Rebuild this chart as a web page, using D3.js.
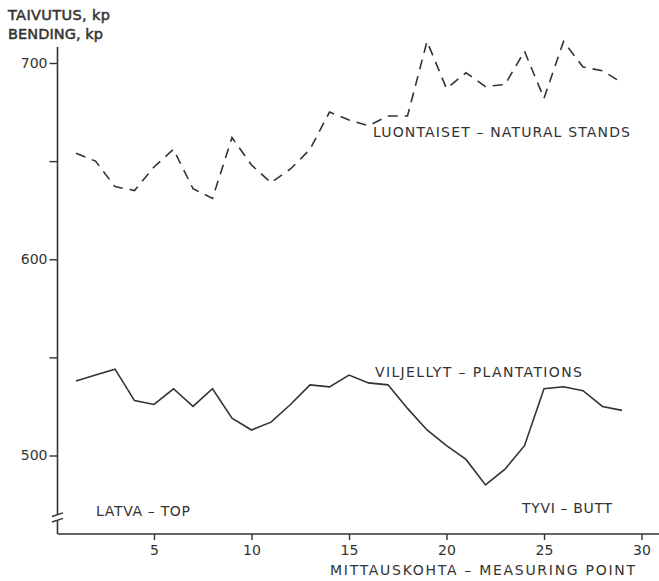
<!DOCTYPE html>
<html>
<head>
<meta charset="utf-8">
<script src="https://cdn.jsdelivr.net/npm/d3@7/dist/d3.min.js"></script>
<style>
  html, body { margin: 0; padding: 0; background: #fff; }
  svg text { font-family: "DejaVu Sans", sans-serif; fill: #333; }
</style>
</head>
<body>
<svg id="chart" width="659" height="581"></svg>
<script>
// Measuring points
const points = [1,2,3,4,5,6,7,8,9,10,11,12,13,14,15,16,17,18,19,20,21,22,23,24,25,26,27,28,29];
// Natural stands (dashed)
const natural = [654,650,637,635,647,656,636,631,662,648,639,646,656,675,671,668,673,673,711,687,695,688,689,706,682,711,698,696,690];
// Plantations (solid)
const plantations = [538,541,544,528,526,534,525,534,519,513,517,526,536,535,541,537,536,524,513,505,498,485,493,505,534,535,533,525,523];
const xTicks = [5,10,15,20,25,30];
const yTicks = [500,550,600,650,700];
const yLabelled = [500,600,700];

const svg = d3.select("#chart");
const ink = "#333";

const x = d3.scaleLinear().domain([0, 30]).range([56.5, 641.5]);
const y = d3.scaleLinear().domain([500, 700]).range([455.5, 63]);

const axisX0 = 57.5, axisY0 = 534;

// y axis line with break
svg.append("line").attr("x1", axisX0).attr("x2", axisX0).attr("y1", 47).attr("y2", 514.5)
  .attr("stroke", ink).attr("stroke-width", 1.6);
svg.append("line").attr("x1", axisX0).attr("x2", axisX0).attr("y1", 520).attr("y2", axisY0)
  .attr("stroke", ink).attr("stroke-width", 1.6);
[[516.5, 512.8], [522, 518.3]].forEach(([a, b]) => {
  svg.append("line").attr("x1", 52).attr("y1", a).attr("x2", 63).attr("y2", b)
    .attr("stroke", ink).attr("stroke-width", 1.4);
});
// x axis line
svg.append("line").attr("x1", axisX0).attr("x2", 659).attr("y1", axisY0).attr("y2", axisY0)
  .attr("stroke", ink).attr("stroke-width", 1.6);

// y axis ticks
const yAxis = d3.axisLeft(y).tickValues(yTicks).tickSize(8).tickPadding(2)
  .tickFormat(d => yLabelled.includes(d) ? d : "");
const gy = svg.append("g").attr("transform", `translate(${axisX0},0)`).call(yAxis);
gy.select(".domain").remove();
gy.selectAll(".tick line").attr("stroke", ink).attr("stroke-width", 1.4);
gy.selectAll(".tick text").attr("font-size", 14).attr("fill", ink)
  .attr("font-family", "DejaVu Sans, sans-serif");

// x axis ticks
const xAxis = d3.axisBottom(x).tickValues(xTicks).tickSize(6).tickPadding(5);
const gx = svg.append("g").attr("transform", `translate(0,${axisY0})`).call(xAxis);
gx.select(".domain").remove();
gx.selectAll(".tick line").attr("stroke", ink).attr("stroke-width", 1.4);
gx.selectAll(".tick text").attr("font-size", 14).attr("fill", ink)
  .attr("font-family", "DejaVu Sans, sans-serif");

// lines
const line = d3.line().x((d, i) => x(points[i])).y(d => y(d));
svg.append("path").datum(natural).attr("d", line)
  .attr("fill", "none").attr("stroke", ink).attr("stroke-width", 1.6)
  .attr("stroke-dasharray", "10,7");
svg.append("path").datum(plantations).attr("d", line)
  .attr("fill", "none").attr("stroke", ink).attr("stroke-width", 1.6);

// texts
function label(txt, xx, yy, len, size, bold) {
  const t = svg.append("text").attr("x", xx).attr("y", yy).attr("font-size", size || 14)
    .attr("textLength", len).attr("lengthAdjust", "spacing").text(txt);
  if (bold) t.attr("stroke", ink).attr("stroke-width", 0.5);
}
label("TAIVUTUS, kp", 8, 20, 102, 14.5, true);
label("BENDING, kp", 8, 39, 95, 14.5, true);
label("LUONTAISET \u2013 NATURAL STANDS", 373, 137, 257);
label("VILJELLYT \u2013 PLANTATIONS", 375, 377, 207);
label("LATVA \u2013 TOP", 96, 516, 94);
label("TYVI \u2013 BUTT", 522, 513, 90);
label("MITTAUSKOHTA \u2013 MEASURING POINT", 330, 575, 305);
</script>
</body>
</html>
